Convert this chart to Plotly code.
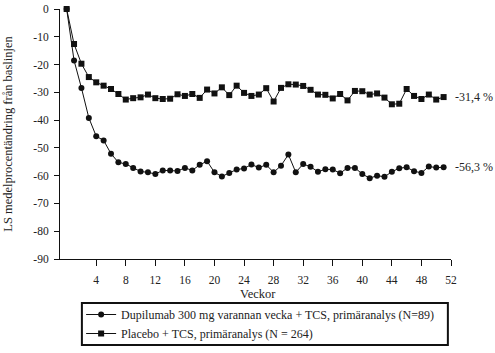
import plotly.graph_objects as go

weeks = list(range(0, 52))

dupilumab = [0, -18.5, -28.4, -39.2, -45.8, -47.3, -52.1, -55.2, -55.8, -57.2,
             -58.5, -58.8, -59.4, -58.1, -58.1, -58.3, -57.2, -58.1, -56.1, -54.8,
             -58.8, -60.3, -59.0, -57.8, -57.4, -56.0, -57.1, -56.1, -58.8, -56.4,
             -52.4, -58.8, -55.8, -56.8, -58.6, -57.7, -57.8, -59.1, -57.2, -57.2,
             -59.4, -60.9, -60.0, -60.4, -58.6, -57.3, -57.0, -58.4, -59.0, -56.7,
             -57.1, -57.0]

placebo = [0, -12.6, -19.7, -24.5, -26.4, -27.6, -28.8, -30.6, -32.6, -32.1,
           -31.8, -30.8, -32.1, -32.4, -32.3, -30.7, -31.3, -30.6, -32.0, -29.0,
           -30.4, -28.2, -31.0, -27.6, -30.2, -31.3, -30.8, -28.5, -33.3, -28.4,
           -27.1, -27.2, -27.7, -29.1, -30.8, -30.9, -32.2, -30.6, -32.9, -29.5,
           -29.6, -30.8, -30.4, -31.9, -34.3, -34.1, -28.8, -31.3, -32.4, -30.8,
           -32.6, -31.7]

series_names = ["Dupilumab 300 mg varannan vecka + TCS, primäranalys (N=89)",
                "Placebo + TCS, primäranalys (N = 264)"]
end_labels = ["-56,3 %", "-31,4 %"]
x_title = "Veckor"
y_title = "LS medelprocentändring från baslinjen"

x_tickvals = list(range(4, 53, 4))
y_tickvals = list(range(0, -91, -10))
y_ticktext = [str(v) if v == 0 else "-" + str(-v) for v in y_tickvals]

FONT = "Liberation Serif"
TXT = "#222222"

fig = go.Figure()
fig.add_trace(go.Scatter(
    x=weeks, y=dupilumab, mode="lines+markers", name=series_names[0],
    line=dict(color="#111111", width=1),
    marker=dict(symbol="circle", size=6, color="#111111"),
    cliponaxis=False))
fig.add_trace(go.Scatter(
    x=weeks, y=placebo, mode="lines+markers", name=series_names[1],
    line=dict(color="#111111", width=1),
    marker=dict(symbol="square", size=6, color="#111111"),
    cliponaxis=False))

for vals, lab in zip([dupilumab, placebo], end_labels):
    fig.add_annotation(x=weeks[-1], y=vals[-1], text=lab, showarrow=False,
                       xanchor="left", yanchor="middle", xshift=9,
                       font=dict(family=FONT, size=12, color=TXT))

fig.add_annotation(xref="paper", yref="paper", x=0.506, y=-0.14,
                   text=x_title, showarrow=False, xanchor="center",
                   yanchor="middle", font=dict(family=FONT, size=12.5, color=TXT))

# legend frame
fig.add_shape(type="rect", xref="paper", yref="paper",
              x0=0.056, x1=0.992, y0=-0.344, y1=-0.176,
              line=dict(color="#111111", width=2), fillcolor="rgba(0,0,0,0)")

fig.update_layout(
    width=495, height=353,
    margin=dict(l=60, r=44, t=9, b=94, autoexpand=False),
    paper_bgcolor="white", plot_bgcolor="white",
    font=dict(family=FONT, size=11, color=TXT),
    showlegend=True,
    legend=dict(x=0.054, y=-0.26, xanchor="left", yanchor="middle",
                borderwidth=0, bgcolor="rgba(0,0,0,0)",
                font=dict(family=FONT, size=12, color=TXT),
                tracegroupgap=0, itemwidth=30),
)
fig.update_xaxes(
    range=[-0.9, 52], tickvals=x_tickvals, ticks="outside", ticklen=6,
    tickwidth=1, tickcolor="#111111", showline=True, linecolor="#111111",
    linewidth=1, showgrid=False, zeroline=False, ticklabelstandoff=4,
    automargin=False, tickfont=dict(family=FONT, size=11.5))
fig.update_yaxes(
    range=[-90, 0], tickvals=y_tickvals, ticktext=y_ticktext, ticks="outside",
    ticklen=5, tickwidth=1, tickcolor="#111111", showline=True,
    linecolor="#111111", linewidth=1, showgrid=False, zeroline=False,
    ticklabelstandoff=3, automargin=False,
    title=dict(text=y_title, font=dict(family=FONT, size=12.5), standoff=17),
    tickfont=dict(family=FONT, size=11.5))

fig.write_html("out.html")
